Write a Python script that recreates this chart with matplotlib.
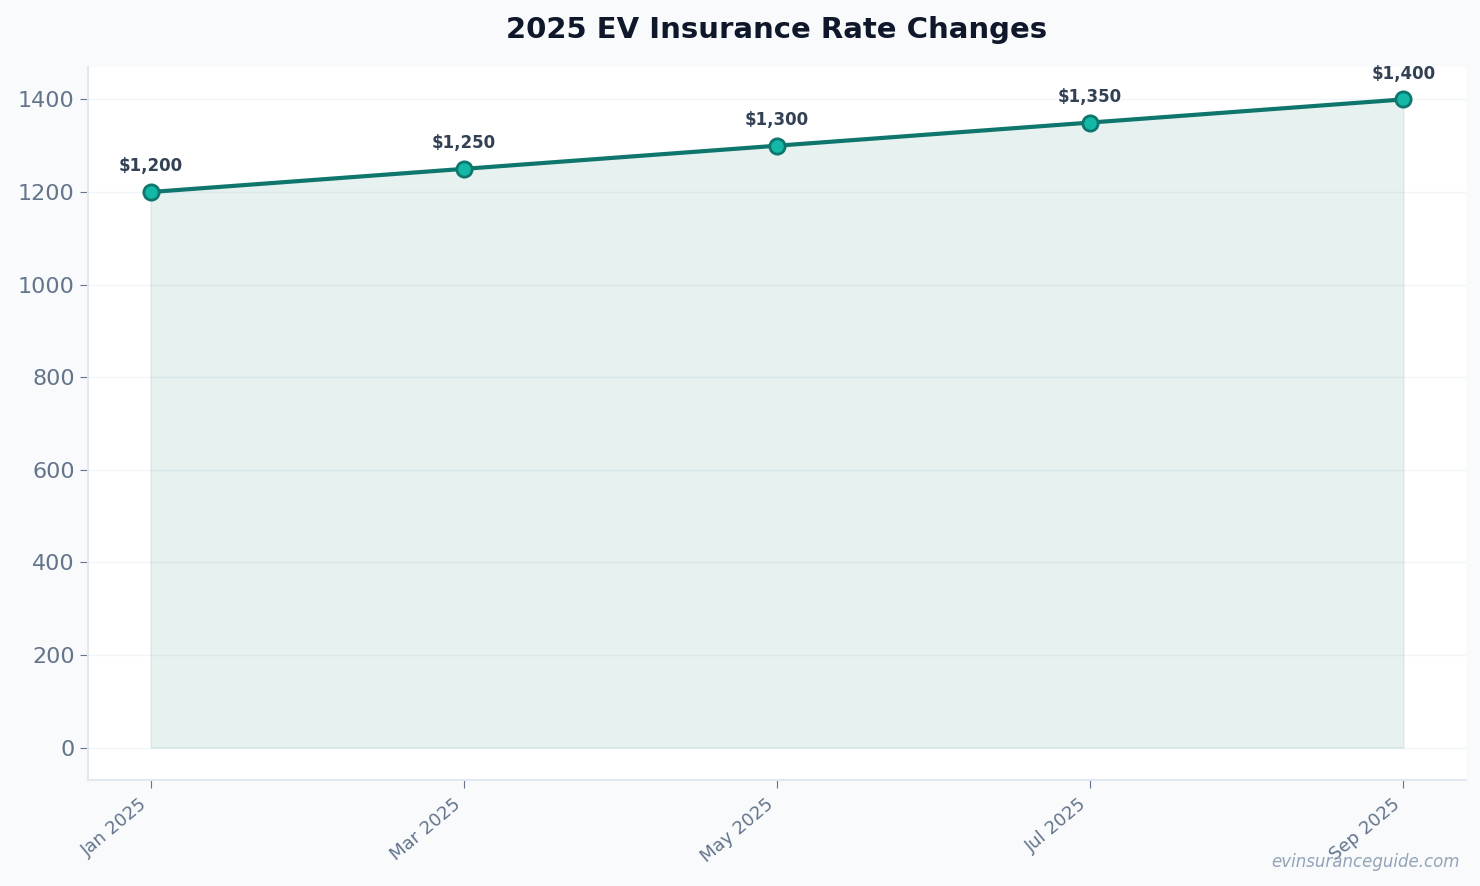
import matplotlib
matplotlib.use('Agg')
import matplotlib.pyplot as plt

months = ['Jan 2025', 'Mar 2025', 'May 2025', 'Jul 2025', 'Sep 2025']
rates = [1200, 1250, 1300, 1350, 1400]

x = list(range(len(months)))

fig = plt.figure(figsize=(14.8, 8.86), dpi=100, facecolor='#f8fafc')
ax = fig.add_axes([88 / 1480, 1 - 780 / 886, (1466 - 88) / 1480, (780 - 67) / 886])
ax.set_facecolor('white')

ax.fill_between(x, rates, 0, color='#0f766e', alpha=0.1, zorder=1)
ax.plot(x, rates, color='#0f766e', linewidth=3, marker='o', markersize=11,
        markerfacecolor='#14b8a6', markeredgecolor='#0f766e', markeredgewidth=2, zorder=3)

for xi, r in zip(x, rates):
    ax.annotate(f'${r:,}', (xi, r), textcoords='offset points', xytext=(0, 12),
                ha='center', va='bottom', fontsize=12, fontweight='bold', color='#334155')

ax.set_xticks(x)
ax.set_xticklabels(months, rotation=40, ha='right', fontsize=13, color='#64748b')
ax.tick_params(axis='y', labelsize=16, labelcolor='#64748b', color='#64748b', length=6)
ax.tick_params(axis='x', color='#64748b', length=6, pad=5)
ax.grid(axis='y', color='#f1f5f9', linewidth=1)
ax.set_axisbelow(True)

for s in ['top', 'right']:
    ax.spines[s].set_visible(False)
for s in ['left', 'bottom']:
    ax.spines[s].set_color('#e2e8f0')
    ax.spines[s].set_linewidth(1.5)

ax.set_title('2025 EV Insurance Rate Changes', fontsize=21, fontweight='bold',
             color='#0f172a', pad=21)
fig.text(1460 / 1480, 1 - 862 / 886, 'evinsuranceguide.com', ha='right', va='center',
         fontsize=12, style='italic', color='#94a3b8')

fig.savefig('out.png', dpi=100, facecolor=fig.get_facecolor())
